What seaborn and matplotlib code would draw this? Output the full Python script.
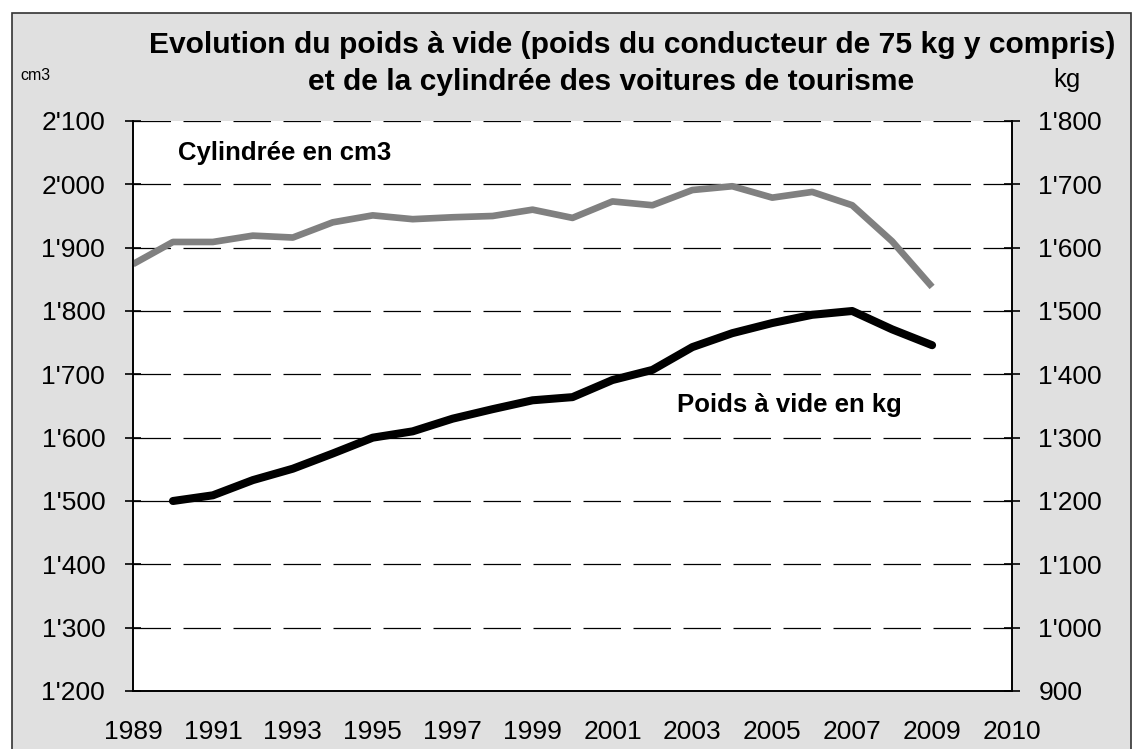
import numpy as np
import pandas as pd
import matplotlib
matplotlib.use("Agg")
import matplotlib.pyplot as plt
from matplotlib.patches import Rectangle
from matplotlib.ticker import FuncFormatter
import seaborn as sns

sns.set_theme(style="white")
plt.rcParams["font.family"] = ["Liberation Sans", "DejaVu Sans"]
plt.rcParams["text.color"] = "black"
plt.rcParams["xtick.color"] = "black"
plt.rcParams["ytick.color"] = "black"

# Data
years_cyl = list(range(1989, 2010))
cylindree = [1874, 1909, 1909, 1919, 1916, 1940, 1951, 1945, 1948, 1950, 1960,
             1947, 1973, 1967, 1991, 1997, 1979, 1988, 1967, 1910, 1838]

years_kg = list(range(1990, 2010))
poids = [1200, 1209, 1233, 1251, 1275, 1300, 1310, 1330, 1345, 1359,
         1364, 1391, 1407, 1443, 1465, 1481, 1494, 1500, 1471, 1446]

x_labels = ["1989", "1991", "1993", "1995", "1997", "1999", "2001",
            "2003", "2005", "2007", "2009", "2010"]

first_year = 1989
df_cyl = pd.DataFrame({"pos": [y - first_year for y in years_cyl], "val": cylindree})
df_kg = pd.DataFrame({"pos": [y - first_year for y in years_kg], "val": poids})

W, H = 1136, 749
fig = plt.figure(figsize=(W / 100, H / 100), dpi=100)
fig.patch.set_facecolor("white")

# grey frame of the chart area
frame = Rectangle((12 / W, -0.02), (1131 - 12) / W, 1.02 - 13 / H,
                  transform=fig.transFigure, facecolor="#e0e0e0",
                  edgecolor="#333333", lw=1.2, zorder=-5)
fig.add_artist(frame)

ax = fig.add_axes([133 / W, 58 / H, (1012 - 133) / W, (691 - 121) / H])
ax.set_facecolor("white")
ax2 = ax.twinx()

sns.lineplot(data=df_cyl, x="pos", y="val", ax=ax, color="#808080", lw=4.8,
             solid_capstyle="butt", zorder=3)
sns.lineplot(data=df_kg, x="pos", y="val", ax=ax2, color="black", lw=5.8,
             solid_capstyle="round", zorder=3)

ax.set_xlim(0, 22)
ax.set_ylim(1200, 2100)
ax2.set_ylim(900, 1800)

fmt = FuncFormatter(lambda v, p: f"{v:,.0f}".replace(",", "'"))
ax.set_yticks(np.arange(1200, 2101, 100))
ax2.set_yticks(np.arange(900, 1801, 100))
ax.yaxis.set_major_formatter(fmt)
ax2.yaxis.set_major_formatter(fmt)

label_pos = list(range(0, 21, 2)) + [22]
ax.set_xticks(range(0, 23))
ax.set_xticklabels([x_labels[label_pos.index(i)] if i in label_pos else ""
                    for i in range(0, 23)])

for a in (ax, ax2):
    a.set_xlabel("")
    a.set_ylabel("")
    a.tick_params(direction="inout", length=12, width=1.2, color="black",
                  labelsize=19)
    for s in a.spines.values():
        s.set_color("black")
        s.set_linewidth(1.2)
    a.spines["top"].set_visible(False)
ax.tick_params(axis="x", pad=15)
ax.tick_params(axis="y", pad=14)
ax2.tick_params(axis="y", pad=13)

ax.grid(axis="y", color="black", lw=0.9, linestyle=(0, (30, 10)))
ax.grid(axis="x", visible=False)
ax2.grid(False)
ax.set_axisbelow(True)

# titles and unit labels
fig.text(632 / W, 1 - 45 / H, "Evolution du poids à vide (poids du conducteur de 75 kg y compris)",
         ha="center", va="center", fontsize=21.6, fontweight="bold")
fig.text(611 / W, 1 - 82 / H, "et de la cylindrée des voitures de tourisme",
         ha="center", va="center", fontsize=21.6, fontweight="bold")
fig.text(20 / W, 1 - 76 / H, "cm3", ha="left", va="center", fontsize=11.5)
fig.text(1067 / W, 1 - 80 / H, "kg", ha="center", va="center", fontsize=18.5)

ax.text((178 - 133) / (1012 - 133), (691 - 153) / (691 - 121), "Cylindrée en cm3",
        transform=ax.transAxes, ha="left", va="center", fontsize=18.5, fontweight="bold")
ax.text((677 - 133) / (1012 - 133), (691 - 405) / (691 - 121), "Poids à vide en kg",
        transform=ax.transAxes, ha="left", va="center", fontsize=18.5, fontweight="bold")

fig.savefig("out.png", dpi=100)
